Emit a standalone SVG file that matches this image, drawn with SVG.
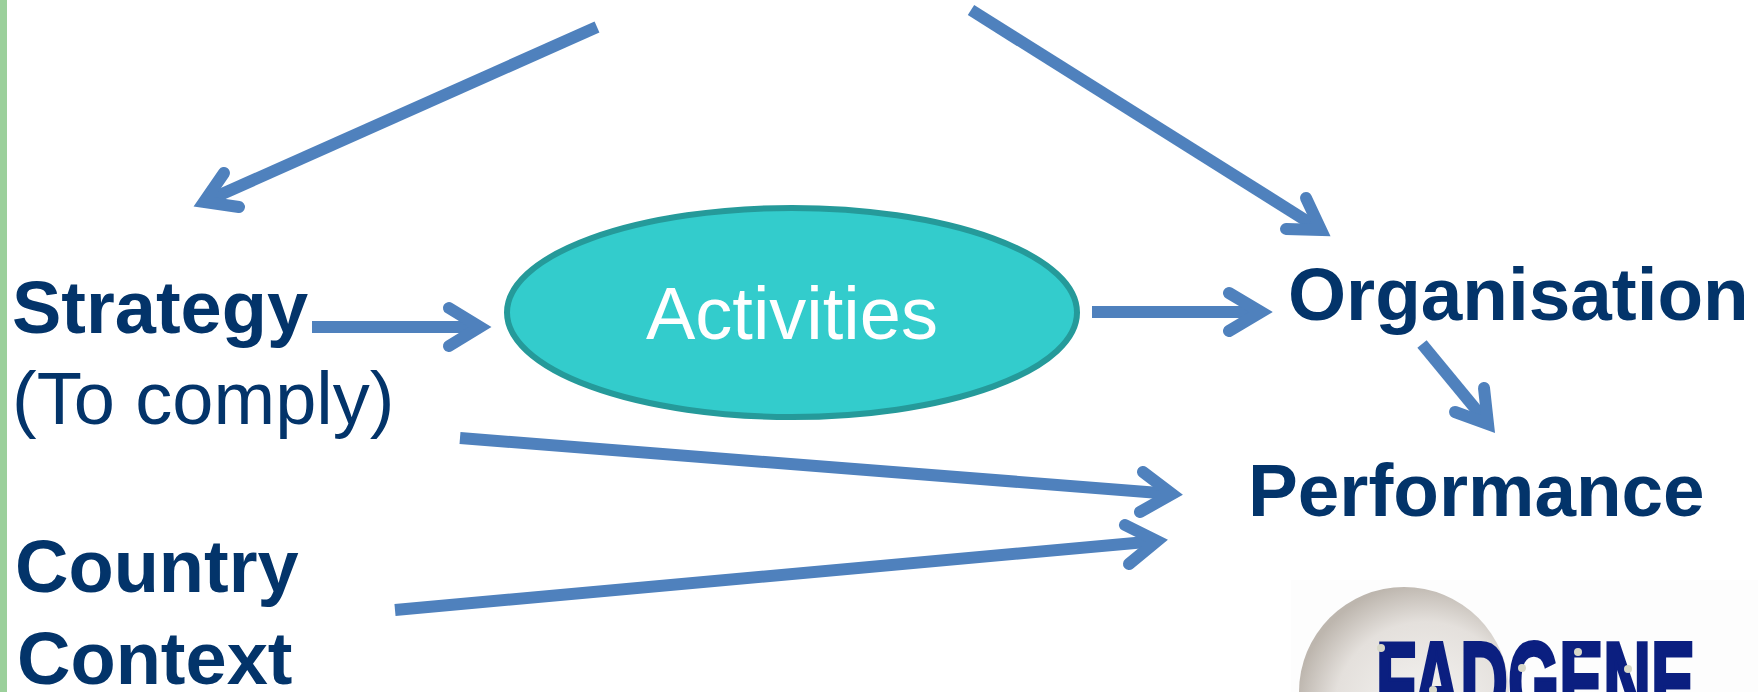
<svg xmlns="http://www.w3.org/2000/svg" width="1758" height="692" viewBox="0 0 1758 692">
<style>
.t{font-family:"Liberation Sans",Arial,sans-serif;font-size:74px;fill:#03346a}
.b{font-weight:bold}
.c{fill:none;stroke:#4f81bd;stroke-width:12}
.h{fill:none;stroke:#4f81bd;stroke-width:12;stroke-linecap:round;stroke-linejoin:miter;stroke-miterlimit:10}
.d{fill:#d8d8c8}
</style>
<defs>
<radialGradient id="sphere" cx="0.6" cy="0.6" r="0.62"><stop offset="0" stop-color="#f6f5f3"/><stop offset="0.7" stop-color="#e4e0dc"/><stop offset="1" stop-color="#bdb6ae"/></radialGradient>
</defs>
<rect width="1758" height="692" fill="#fff"/>
<rect x="0" y="0" width="7" height="692" fill="#9bd09b"/>
<g id="logo">
<rect x="1291" y="580" width="467" height="112" fill="#fdfdfd"/>
<circle cx="1404" cy="692" r="105" fill="url(#sphere)"/>
<text x="1376" y="720" style="font-family:'Liberation Sans',Arial,sans-serif;font-weight:bold;font-size:112px;fill:#0b1f80;stroke:#0b1f80;stroke-width:4" textLength="319" lengthAdjust="spacingAndGlyphs">FADGENE</text>
<circle class="d" cx="1381" cy="648" r="4"/><circle class="d" cx="1522" cy="668" r="4"/><circle class="d" cx="1578" cy="652" r="4"/><circle class="d" cx="1628" cy="669" r="4"/><circle class="d" cx="1433" cy="690" r="4"/>
</g>
<g id="connectors">
<path class="c" d="M597 27L204 202"/><path class="h" d="M224 173L204 202L239 207"/>
<path class="c" d="M971 10L1321 230"/><path class="h" d="M1306 198L1321 230L1286 229"/>
<path class="c" d="M312 327L480 327"/><path class="h" d="M449 308L480 327L449 346"/>
<path class="c" d="M1092 312L1261 312"/><path class="h" d="M1229 293L1261 312L1229 331"/>
<path class="c" d="M1422 344L1488 424"/><path class="h" d="M1484 388L1488 424L1455 412"/>
<path class="c" d="M460 438L1172 494"/><path class="h" d="M1143 472L1172 494L1140 512"/>
<path class="c" d="M395 610L1157 541"/><path class="h" d="M1125 525L1157 541L1129 564"/>
</g>
<g id="activities">
<ellipse cx="792" cy="312.5" rx="285" ry="104.5" fill="#33cccc" stroke="#259a9a" stroke-width="6"/>
<text x="792" y="339" text-anchor="middle" style="font-family:'Liberation Sans',Arial,sans-serif;font-size:74px;fill:#fff">Activities</text>
</g>
<g id="strategy"><text class="t b" x="12" y="333">Strategy</text><text class="t" x="12" y="424">(To comply)</text></g>
<g id="organisation"><text class="t b" x="1288" y="320" style="font-size:74.7px">Organisation</text></g>
<g id="performance"><text class="t b" x="1248" y="516" style="font-size:74.7px">Performance</text></g>
<g id="country"><text class="t b" x="15" y="592">Country</text><text class="t b" x="17" y="684">Context</text></g>
</svg>
